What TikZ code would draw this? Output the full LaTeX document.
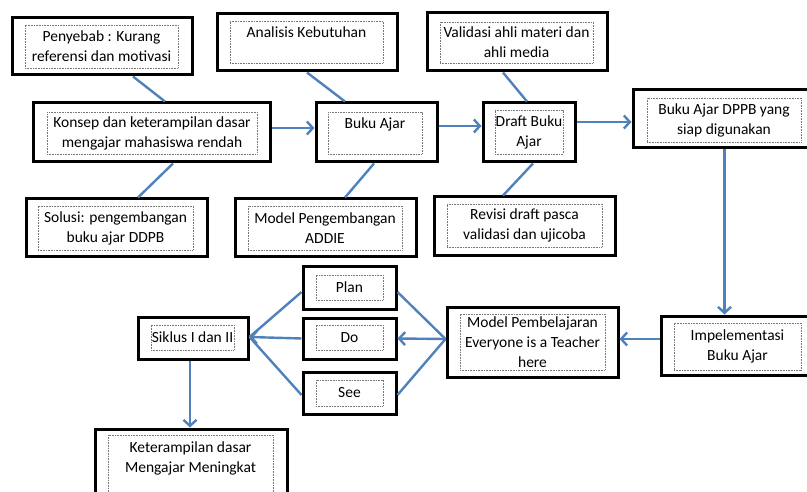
\documentclass[tikz,border=0pt]{standalone}
\usepackage{fontspec}
\setmainfont{Carlito}
\usetikzlibrary{arrows.meta}
\definecolor{lnblue}{RGB}{79,129,189}
\definecolor{dotgray}{RGB}{120,120,120}
\tikzset{
  outerbox/.style={draw=black, line width=3pt, fill=white, inner sep=0pt},
  innerbox/.style={draw=dotgray, line width=0.7pt, dash pattern=on 0.8pt off 0.8pt, inner sep=0pt, align=center, text=black, font=\fontsize{15.5}{20}\selectfont},
  conn/.style={draw=lnblue, line width=2.4pt},
  arr/.style={conn, -{Straight Barb[length=6pt,width=13pt]}}
}
% \tbox{name}{x1}{y1}{x2}{y2}{ix1}{iy1}{ix2}{iy2}{text}
\newcommand\tbox[9]{%
  \node[outerbox, minimum width={#4-#2}, minimum height={#5-#3}] (#1) at ({(#2+#4)/2},{(#3+#5)/2}) {};
  \node[innerbox, minimum width={#8-#6}, minimum height={#9-#7}] (#1-t) at ({(#6+#8)/2},{(#7+#9)/2})}
\begin{document}
\begin{tikzpicture}[x=1pt,y=-1pt]
\useasboundingbox (0,0) rectangle (807,492);
\clip (0,0) rectangle (807,492);
% boxes
\tbox{pen}{12}{18}{192}{75}{25}{25}{178}{68}{\fontsize{15.5}{25}\selectfont Penyebab : Kurang\\referensi dan motivasi};
\tbox{kon}{33}{103}{270}{162}{47}{112}{257}{154}{Konsep dan keterampilan dasar\\mengajar mahasiswa rendah};
\tbox{ana}{217}{14}{397}{71}{230}{21}{383}{63}{Analisis Kebutuhan\\~};
\tbox{buk}{316}{103}{437}{162}{328}{112}{422}{154}{Buku Ajar\\~};
\tbox{val}{427}{13}{607}{71}{440}{22}{593}{63}{Validasi ahli materi dan\\ahli media};
\tbox{dra}{483}{103}{575}{162}{495}{110}{563}{154}{Draft Buku\\Ajar};
\tbox{dppb}{633}{90}{810}{148}{647}{98}{801}{142}{Buku Ajar DPPB yang\\siap digunakan};
\tbox{sol}{26}{199}{207}{257}{38}{206}{193}{250}{Solusi: pengembangan\\buku ajar DDPB};
\tbox{add}{235}{199}{416}{257}{248}{206}{402}{250}{Model Pengembangan\\ADDIE};
\tbox{rev}{434}{197}{615}{256}{447}{204}{602}{247}{Revisi draft pasca\\validasi dan ujicoba};
\tbox{imp}{661}{316}{810}{375}{674}{323}{801}{370}{Impelementasi\\Buku Ajar};
\tbox{mod}{447}{307}{618}{377}{460}{314}{605}{370}{Model Pembelajaran\\Everyone is a Teacher\\here};
\tbox{plan}{303}{267}{396}{309}{316}{275}{383}{300}{Plan};
\tbox{do}{303}{318}{396}{359}{316}{325}{383}{350}{Do};
\tbox{see}{303}{372}{396}{414}{316}{380}{383}{406}{See};
\tbox{sik}{138}{317}{248}{359}{151}{325}{234}{350}{Siklus I dan II};
\tbox{ket}{95}{429}{287}{505}{108}{435}{273}{500}{Keterampilan dasar\\Mengajar Meningkat\\~};
% connectors
\draw[conn] ([xshift=31]pen.south) -- ([xshift=13.5]kon.north);
\draw[conn] ([xshift=21.5]kon.south) -- ([xshift=21.5]sol.north);
\draw[arr] ([yshift=4.5]kon.east) -- ([yshift=4.5]buk.west);
\draw[conn] (ana.south) -- ([xshift=-31.5]buk.north);
\draw[conn] ([xshift=-2.5]buk.south) -- ([xshift=19.5]add.north);
\draw[arr] ([yshift=6.5]buk.east) -- ([yshift=6.5]dra.west);
\draw[conn] ([xshift=-14]val.south) -- ([xshift=-2]dra.north);
\draw[conn] ([xshift=4]dra.south) -- ([xshift=-21.5]rev.north);
\draw[arr] ([yshift=10.5]dra.east) -- ([yshift=-3]dppb.west);
\draw[arr] ([xshift=3]dppb.south) -- ([xshift=-11]imp.north);
\draw[arr] ([yshift=6.5]imp.west) -- ([yshift=3]mod.east);
\draw[conn] ([yshift=3]mod.west) -- ([yshift=-4]plan.east);
\draw[arr] ([yshift=3]mod.west) -- (do.east);
\draw[conn] ([yshift=3]mod.west) -- ([yshift=-2]see.east);
\draw[conn] ([yshift=-4]plan.west) -- ([yshift=1]sik.east);
\draw[arr] (do.west) -- ([yshift=1]sik.east);
\draw[conn] ([yshift=-2]see.west) -- ([yshift=1]sik.east);
\draw[arr] ([xshift=-3]sik.south) -- ([xshift=-1]ket.north);
\end{tikzpicture}
\end{document}
